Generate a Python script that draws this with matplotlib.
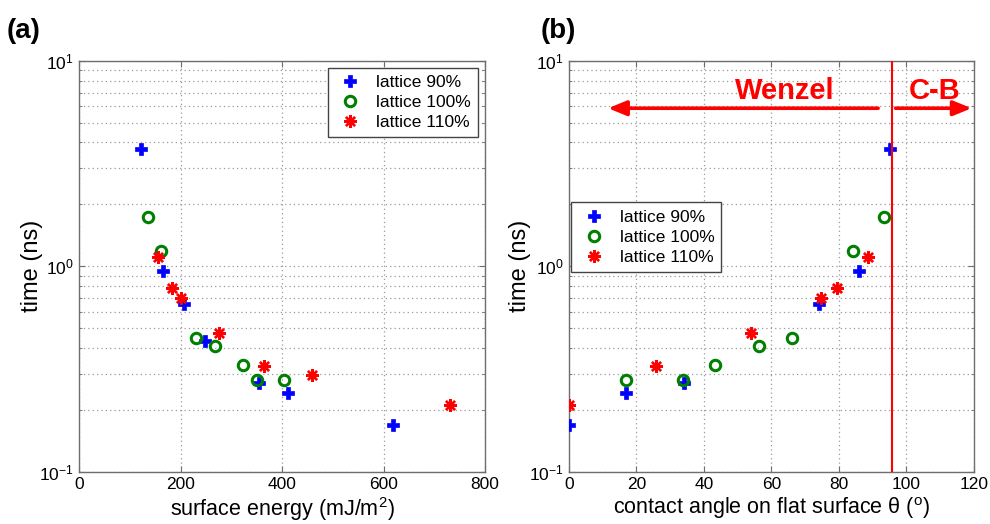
import matplotlib
matplotlib.use("Agg")
import matplotlib.pyplot as plt
from matplotlib.ticker import LogLocator, NullFormatter, MultipleLocator

plt.rcParams["font.family"] = ["Liberation Sans", "DejaVu Sans"]
plt.rcParams["mathtext.default"] = "regular"

labels = ["lattice 90%", "lattice 100%", "lattice 110%"]

# (a) surface energy vs time
energy_90 = [122, 165, 206, 247, 354, 412, 619]
time_90 = [3.71, 0.95, 0.652, 0.433, 0.269, 0.242, 0.169]
energy_100 = [135, 162, 231, 268, 323, 351, 404]
time_100 = [1.74, 1.19, 0.446, 0.408, 0.331, 0.279, 0.279]
energy_110 = [156, 182, 200, 275, 365, 458, 731]
time_110 = [1.11, 0.783, 0.703, 0.471, 0.328, 0.294, 0.210]

# (b) contact angle vs time
angle_90 = [95.1, 86.0, 74.0, 34.2, 16.8, 0.0]
tb_90 = [3.71, 0.95, 0.652, 0.269, 0.242, 0.169]
angle_100 = [93.3, 84.3, 66.2, 56.4, 43.3, 33.8, 17.0]
tb_100 = [1.74, 1.19, 0.446, 0.408, 0.331, 0.279, 0.279]
angle_110 = [88.6, 79.3, 74.7, 53.8, 25.9, 0.0]
tb_110 = [1.11, 0.783, 0.703, 0.471, 0.328, 0.210]

transition_angle = 95.8

frame_col = "#6e6e6e"
grid_col = "#9a9a9a"

fig = plt.figure(figsize=(9.9, 5.24), dpi=100)
ax1 = fig.add_axes([0.0801, 0.0998, 0.4098, 0.7844])
ax2 = fig.add_axes([0.5747, 0.0998, 0.4091, 0.7844])


def draw(ax, x90, y90, x100, y100, x110, y110):
    ax.plot(x90, y90, ls="none", marker="P", ms=9, mfc="blue", mec="blue",
            mew=0.5, label=labels[0], zorder=3)
    ax.plot(x100, y100, ls="none", marker="o", ms=7.5, mfc="none", mec="green",
            mew=2.2, label=labels[1], zorder=3)
    ax.plot(x110, y110, ls="none", marker=(8, 2, 0), ms=9, mec="red",
            mew=1.7, label=labels[2], zorder=3)
    ax.set_yscale("log")
    ax.set_ylim(0.1, 10)
    ax.yaxis.set_major_locator(LogLocator(base=10, numticks=5))
    ax.yaxis.set_minor_locator(LogLocator(base=10, subs=range(2, 10), numticks=10))
    ax.yaxis.set_minor_formatter(NullFormatter())
    ax.grid(True, which="both", axis="y", color=grid_col, ls=(0, (1, 2.5)), lw=0.9)
    ax.grid(True, which="major", axis="x", color=grid_col, ls=(0, (1, 2.5)), lw=0.9)
    ax.tick_params(which="both", direction="in", top=True, right=True,
                   color=frame_col, labelsize=12.5, pad=4)
    ax.tick_params(which="major", length=4)
    ax.tick_params(which="minor", length=2.5)
    for s in ax.spines.values():
        s.set_color(frame_col)
        s.set_linewidth(1.0)
    ax.set_ylabel("time (ns)", fontsize=17, va="center")


draw(ax1, energy_90, time_90, energy_100, time_100, energy_110, time_110)
ax1.yaxis.set_label_coords(-0.117, 0.5)
ax1.set_xlim(0, 800)
ax1.xaxis.set_major_locator(MultipleLocator(200))
ax1.set_xlabel("surface energy (mJ/m$^{2}$)", fontsize=15.5, labelpad=2)
ax1.legend(loc="upper right", fontsize=12.5, frameon=True, fancybox=False,
           edgecolor="#444444", framealpha=1, numpoints=1, handletextpad=0.6,
           labelspacing=0.3, borderaxespad=0.4, handlelength=1.8)

draw(ax2, angle_90, tb_90, angle_100, tb_100, angle_110, tb_110)
ax2.yaxis.set_label_coords(-0.121, 0.5)
ax2.set_xlim(0, 120)
ax2.xaxis.set_major_locator(MultipleLocator(20))
ax2.set_xlabel(r"contact angle on flat surface θ ($^{o}$)", fontsize=15.5, labelpad=2)
ax2.legend(loc="upper left", bbox_to_anchor=(0.005, 0.655), fontsize=12.5,
           frameon=True, fancybox=False, edgecolor="#444444", framealpha=1,
           numpoints=1, handletextpad=0.6, labelspacing=0.3, borderaxespad=0.0,
           handlelength=1.8)

ax2.axvline(transition_angle, color="red", lw=1.5, zorder=4)
arrow = dict(arrowstyle="-|>,head_length=1.1,head_width=0.45", color="red",
             lw=2.6, shrinkA=0, shrinkB=0)
ax2.annotate("", xy=(11.6, 5.87), xytext=(91.6, 5.87), arrowprops=arrow)
ax2.annotate("", xy=(119.3, 5.87), xytext=(96.8, 5.87), arrowprops=arrow)
ax2.text(64, 7.1, "Wenzel", color="red", fontsize=21, fontweight="bold",
         ha="center", va="center")
ax2.text(108.4, 7.1, "C-B", color="red", fontsize=21, fontweight="bold",
         ha="center", va="center")

fig.text(0.007, 0.94, "(a)", fontsize=20, fontweight="bold", va="center")
fig.text(0.546, 0.94, "(b)", fontsize=20, fontweight="bold", va="center")

fig.savefig("out.png", dpi=100)
